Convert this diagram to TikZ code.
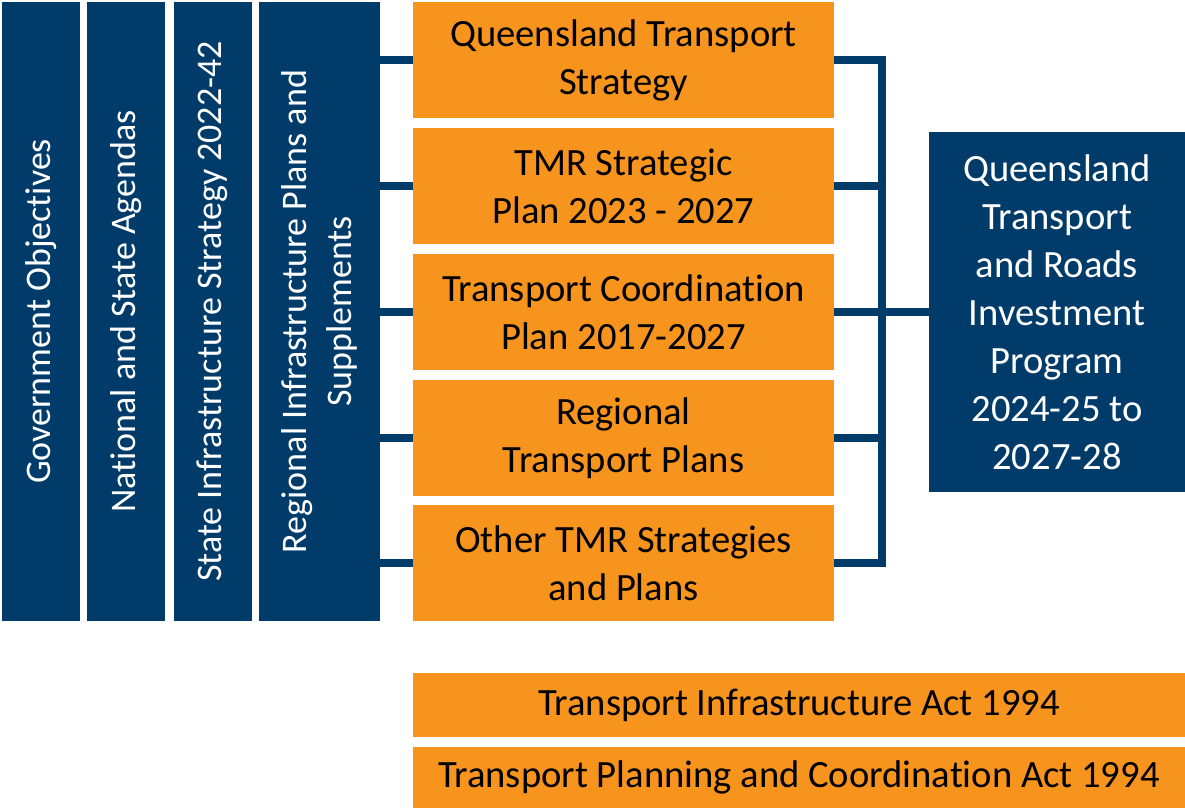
\documentclass[tikz,border=0pt]{standalone}
\usepackage{fontspec}
\setmainfont[Ligatures=NoCommon]{Carlito}
\usepackage{tikz}
\usetikzlibrary{positioning}
\definecolor{tmrnavy}{RGB}{0,59,106}
\definecolor{tmrorange}{RGB}{247,148,30}
\newcommand{\boxfont}{\fontsize{19.3}{24}\selectfont}
\tikzstyle{agendabox} = [fill=tmrnavy, text=white, rotate=90, inner sep=0pt, outer sep=0pt, align=center, font=\fontsize{18}{22.5}\selectfont, minimum height=39pt, minimum width=309.5pt]
\tikzstyle{planbox} = [fill=tmrorange, text=black, inner sep=0pt, outer sep=0pt, align=center, font=\boxfont, minimum width=210.5pt, minimum height=58pt]
\tikzstyle{programbox} = [fill=tmrnavy, text=white, inner sep=0pt, outer sep=0pt, align=center, font=\boxfont, minimum width=128pt, minimum height=180pt]
\tikzstyle{actbox} = [fill=tmrorange, text=black, inner sep=0pt, outer sep=0pt, align=center, font=\boxfont, minimum width=386pt]
\tikzstyle{link} = [draw=tmrnavy, line width=4pt]

\begin{document}
\begin{tikzpicture}[x=0.5pt, y=0.5pt]
					\useasboundingbox (0,0) rectangle (1185,808);
					% columnas giradas: el lado derecho es el ancla south
					\node [agendabox] (gov) at (41,496.5) {Government Objectives};
					\node [agendabox] (nat) at (126,496.5) {National and State Agendas};
					\node [agendabox] (sis) at (212.5,496.5) {State Infrastructure Strategy 2022-42};
					\node [agendabox, minimum height=60.5pt] (rip) at (319.5,496.5) {Regional Infrastructure Plans and\\Supplements};
					% planes
					\node [planbox] (qts) at (623.5,748) {Queensland Transport\\Strategy};
					\node [planbox] (tsp) at (623.5,622) {TMR Strategic\\Plan 2023 - 2027};
					\node [planbox] (tcp) at (623.5,496) {Transport Coordination\\Plan 2017-2027};
					\node [planbox] (rtp) at (623.5,370) {Regional\\Transport Plans};
					\node [planbox] (osp) at (623.5,244.5) {Other TMR Strategies\\and Plans};
					\node [programbox] (qtrip) at (1057,496) {Queensland\\Transport\\and Roads\\Investment\\Program\\2024-25 to\\2027-28};
					% leyes
					\node [actbox, minimum height=32pt] (tia) at (799,103) {Transport Infrastructure Act 1994};
					\node [actbox, minimum height=30.5pt] (tpca) at (799,30.5) {Transport Planning and Coordination Act 1994};
					% conectores
					\foreach \p in {qts,tsp,tcp,rtp,osp}
						\draw [link] (rip.south |- \p.west) -- (\p.west);
					\coordinate (bus) at (882,496);
					\draw [link] (qts.east) -| (bus |- osp.east) -- (osp.east);
					\foreach \p in {tsp,tcp,rtp}
						\draw [link] (\p.east) -- (bus |- \p.east);
					\draw [link] (bus) -- (qtrip.west);
				\end{tikzpicture}
\end{document}
